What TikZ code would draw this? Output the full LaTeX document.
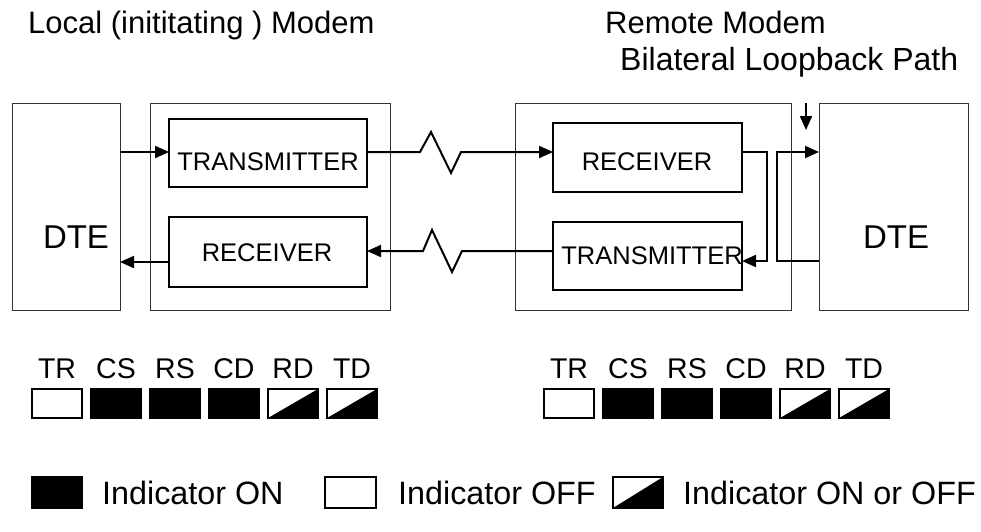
\documentclass[tikz,border=0pt]{standalone}
\usepackage{fontspec}
\setmainfont{Liberation Sans}
\usetikzlibrary{arrows.meta,calc}

\begin{document}
\begin{tikzpicture}[x=1pt,y=-1pt,
  outerbox/.style={draw=black!80, line width=1pt, inner sep=0pt, outer sep=0pt, anchor=north west},
  unitbox/.style={draw=black, line width=1.3pt, inner sep=0pt, outer sep=0pt, anchor=north west},
  wire/.style={line width=2pt, line join=miter},
  arr/.style={wire, -{Triangle[length=14pt,width=12pt]}},
  headtext/.style={anchor=base west, inner sep=0pt, font=\fontsize{31}{33}\selectfont},
  looptext/.style={anchor=base west, inner sep=0pt, font=\fontsize{32}{34}\selectfont},
  unittext/.style={inner sep=0pt, font=\fontsize{25.5}{27}\selectfont},
  dtetext/.style={inner sep=0pt, font=\fontsize{33}{35}\selectfont},
  lamptext/.style={anchor=base, inner sep=0pt, font=\fontsize{28.5}{30}\selectfont},
  keytext/.style={anchor=base west, inner sep=0pt, font=\fontsize{32.3}{34}\selectfont},
  lamp/.style={draw=black, line width=1.3pt, inner sep=0pt, outer sep=0pt, anchor=north west,
    minimum width=50pt, minimum height=29pt},
  lampon/.style={lamp, fill=black},
  lampoff/.style={lamp, fill=white},
  lampeither/.style={lamp, fill=white, path picture={
    \fill[black] (path picture bounding box.south west) -- (path picture bounding box.north east)
      -- (path picture bounding box.south east) -- cycle;}},
]
\useasboundingbox (0,0) rectangle (981,531);

% headings
\node[headtext] (title) at (28,33) {Local (inititating ) Modem};
\node[headtext] (remote) at (605,33) {Remote Modem};
\node[looptext] (loopname) at (620,70) {Bilateral Loopback Path};

% terminals and modems
\node[outerbox, minimum width=108pt, minimum height=207pt] (dteL) at (12,103) {};
\node[outerbox, minimum width=240pt, minimum height=207pt] (modL) at (150,103) {};
\node[unitbox, minimum width=198pt, minimum height=68pt] (txL) at (169,119) {};
\node[unitbox, minimum width=198pt, minimum height=70pt] (rxL) at (169,217) {};

\node[outerbox, minimum width=276pt, minimum height=207pt] (modR) at (515,103) {};
\node[unitbox, minimum width=189pt, minimum height=69pt] (rxR) at (553,123) {};
\node[unitbox, minimum width=189pt, minimum height=68pt] (txR) at (553,222) {};
\node[outerbox, minimum width=149pt, minimum height=207pt] (dteR) at (819,103) {};

\node[dtetext] (dteLtext) at (76,237) {DTE};
\node[dtetext] (dteRtext) at (896,237) {DTE};
\node[unittext] (txLtext) at (268,162) {TRANSMITTER};
\node[unittext] (rxLtext) at (267,253) {RECEIVER};
\node[unittext] (rxRtext) at (647,162) {RECEIVER};
\node[unittext] (txRtext) at (652,256) {TRANSMITTER};

% signal paths
\coordinate (a1) at ([yshift=54.5pt]dteL.east);
\draw[arr] (a1) -- (a1 -| txL.west);
\coordinate (a2) at ([yshift=1pt]txL.east);
\draw[arr] (a2) -- ++(53,0) -- ++(11,-20) -- ++(20,41) -- ++(10,-21) -- (a2 -| rxR.west);
\coordinate (a3) at ([yshift=5pt]txR.west);
\draw[arr] (a3) -- ++(-91,0) -- ++(-10,21) -- ++(-20,-42) -- ++(-9,21) -- (a3 -| rxL.east);
\coordinate (a4) at ([yshift=-10pt]rxL.west);
\draw[arr] (a4) -- (a4 -| dteL.east);

% bilateral loopback
\coordinate (a5) at ([yshift=5.5pt]rxR.east);
\coordinate (a6) at ([yshift=-5pt]txR.east);
\draw[arr] (a5) -- ++(25,0) |- (a6);
\coordinate (a7) at ([yshift=-54.5pt]dteR.west);
\coordinate (a8) at ([yshift=54.5pt]dteR.west);
\draw[arr] (a7) -- ++(-42,0) |- (a8);
\coordinate (lbTop) at (806,103);
\coordinate (lbTip) at (806,130);
\draw[arr] (lbTop) -- (lbTip);

% indicator panels
\foreach \lab/\st [count=\i from 0] in {TR/lampoff,CS/lampon,RS/lampon,CD/lampon,RD/lampeither,TD/lampeither} {
  \node[\st] (L\i) at (32+59*\i,389) {};
  \node[lamptext] (LT\i) at ([yshift=11pt]L\i.north) {\lab};
  \node[\st] (R\i) at (544+59*\i,389) {};
  \node[lamptext] (RT\i) at ([yshift=11pt]R\i.north) {\lab};
}

% key
\node[lampon, minimum width=50pt, minimum height=31pt] (kOn) at (32,477) {};
\node[keytext] (kOnText) at (102,504) {Indicator ON};
\node[lampoff, minimum width=51pt, minimum height=31pt] (kOff) at (325,477) {};
\node[keytext] (kOffText) at (398,504) {Indicator OFF};
\node[lampeither, minimum width=50pt, minimum height=31pt] (kAny) at (613,477) {};
\node[keytext] (kAnyText) at (683,504) {Indicator ON or OFF};
\end{tikzpicture}
\end{document}
